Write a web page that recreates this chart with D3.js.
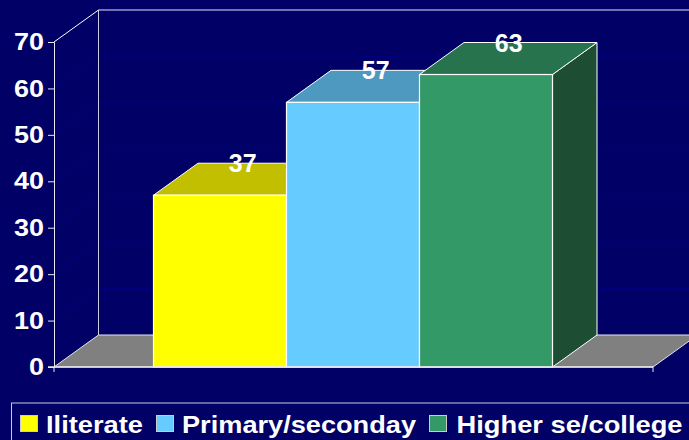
<!DOCTYPE html>
<html><head><meta charset="utf-8">
<script src="https://cdnjs.cloudflare.com/ajax/libs/d3/7.8.5/d3.min.js"></script>
<style>html,body{margin:0;padding:0;background:#000066;overflow:hidden}svg{display:block}text{font-family:"Liberation Sans",Arial,sans-serif;font-weight:bold;fill:#fff}</style>
</head><body><svg id="c" width="689" height="440"></svg>
<script>
const categories = ["Iliterate", "Primary/seconday", "Higher se/college"];
const values = [37, 57, 63];
const yTicks = [0, 10, 20, 30, 40, 50, 60, 70];
const fronts = ["#ffff00", "#66ccff", "#339966"];
const tops = ["#c2bf00", "#4d99bf", "#26734d"];
const sides = ["#808000", "#336680", "#1d4d33"];

const svg = d3.select("#c");
const dx = 44.5, dy = -32;
const y = d3.scaleLinear().domain([0, 70]).range([367, 42]);
const x = d3.scaleBand().domain(categories).range([153.5, 552.5]).paddingInner(0).paddingOuter(0);
const x0 = 54, x1 = 653;
const poly = pts => pts.map(p => p.join(",")).join(" ");

// walls and gridlines
const grid = svg.append("g");
grid.selectAll("polyline").data(yTicks.slice(1, -1)).join("polyline")
  .attr("points", d => poly([[x0, y(d)], [x0 + dx, y(d) + dy], [x1 + dx, y(d) + dy]]))
  .attr("fill", "none").attr("stroke", "#000080").attr("stroke-width", 1);
svg.append("line").attr("x1", x0 + dx).attr("x2", 689).attr("y1", y(70) + dy).attr("y2", y(70) + dy)
  .attr("stroke", "#9999cc").attr("stroke-width", 1.5);
svg.append("line").attr("x1", x0 + dx).attr("x2", x0 + dx).attr("y1", y(70) + dy).attr("y2", y(0) + dy)
  .attr("stroke", "#ccccdd").attr("stroke-width", 1);
svg.append("line").attr("x1", x0).attr("x2", x0 + dx).attr("y1", y(70)).attr("y2", y(70) + dy)
  .attr("stroke", "#fff").attr("stroke-width", 1);

// floor
svg.append("polygon")
  .attr("points", poly([[x0, y(0)], [x0 + dx, y(0) + dy], [x1 + dx, y(0) + dy], [x1, y(0)]]))
  .attr("fill", "#808080").attr("stroke", "#e6e6e6").attr("stroke-width", 1);

// bars
const bars = svg.append("g").selectAll("g").data(categories).join("g");
bars.append("polygon").attr("points", (c, i) => {
    const r = x(c) + x.bandwidth();
    return poly([[r, y(values[i])], [r + dx, y(values[i]) + dy], [r + dx, y(0) + dy], [r, y(0)]]);
  }).attr("fill", (c, i) => sides[i]).attr("stroke", "#fff");
bars.append("polygon").attr("points", (c, i) => {
    const l = x(c), r = l + x.bandwidth(), t = y(values[i]);
    return poly([[l, t], [l + dx, t + dy], [r + dx, t + dy], [r, t]]);
  }).attr("fill", (c, i) => tops[i]).attr("stroke", "#fff");
bars.append("rect")
  .attr("x", c => x(c)).attr("width", x.bandwidth())
  .attr("y", (c, i) => y(values[i])).attr("height", (c, i) => y(0) - y(values[i]))
  .attr("fill", (c, i) => fronts[i]).attr("stroke", "#fff").attr("stroke-width", 1.2);

// value labels
svg.append("g").selectAll("text").data(categories).join("text")
  .attr("x", c => x(c) + x.bandwidth() / 2 + dx / 2 + 0.5)
  .attr("y", (c, i) => y(values[i]) + dy + 9)
  .attr("text-anchor", "middle").attr("font-size", 25)
  .text((c, i) => values[i]);

// axis
const axis = svg.append("g").attr("transform", `translate(${x0},0)`)
  .call(d3.axisLeft(y).tickValues(yTicks).tickSize(6).tickPadding(4).tickFormat(d3.format("d")));
axis.selectAll("text").attr("font-size", 24).style("font-family", '"Liberation Sans",Arial,sans-serif').style("font-weight", "bold").style("fill", "#fff")
  .attr("textLength", d => String(d).length * 15).attr("lengthAdjust", "spacingAndGlyphs");
axis.selectAll("line,path").attr("stroke", "#e6e6f0");
svg.append("line").attr("x1", x0 - 6).attr("x2", x1).attr("y1", y(0)).attr("y2", y(0)).attr("stroke", "#e6e6e6").attr("stroke-width", 1.5);
[x0, x1].forEach(v => svg.append("line").attr("x1", v).attr("x2", v).attr("y1", y(0)).attr("y2", y(0) + 5).attr("stroke", "#e6e6e6"));

// legend
svg.append("rect").attr("x", 11.5).attr("y", 403).attr("width", 700).attr("height", 60)
  .attr("fill", "none").attr("stroke", "#ccccdd");
const legendX = [20, 156, 429];
const legendTextX = [46, 182, 456.5];
const legendW = [97, 234, 226];
categories.forEach((c, i) => {
  svg.append("rect").attr("x", legendX[i] + 0.5).attr("y", 415.5).attr("width", 17).attr("height", 16)
    .attr("fill", fronts[i]).attr("stroke", "#cccccc");
  svg.append("text").attr("x", legendTextX[i]).attr("y", 432.5).attr("font-size", 24)
    .attr("textLength", legendW[i]).attr("lengthAdjust", "spacingAndGlyphs").text(c);
});
</script></body></html>
